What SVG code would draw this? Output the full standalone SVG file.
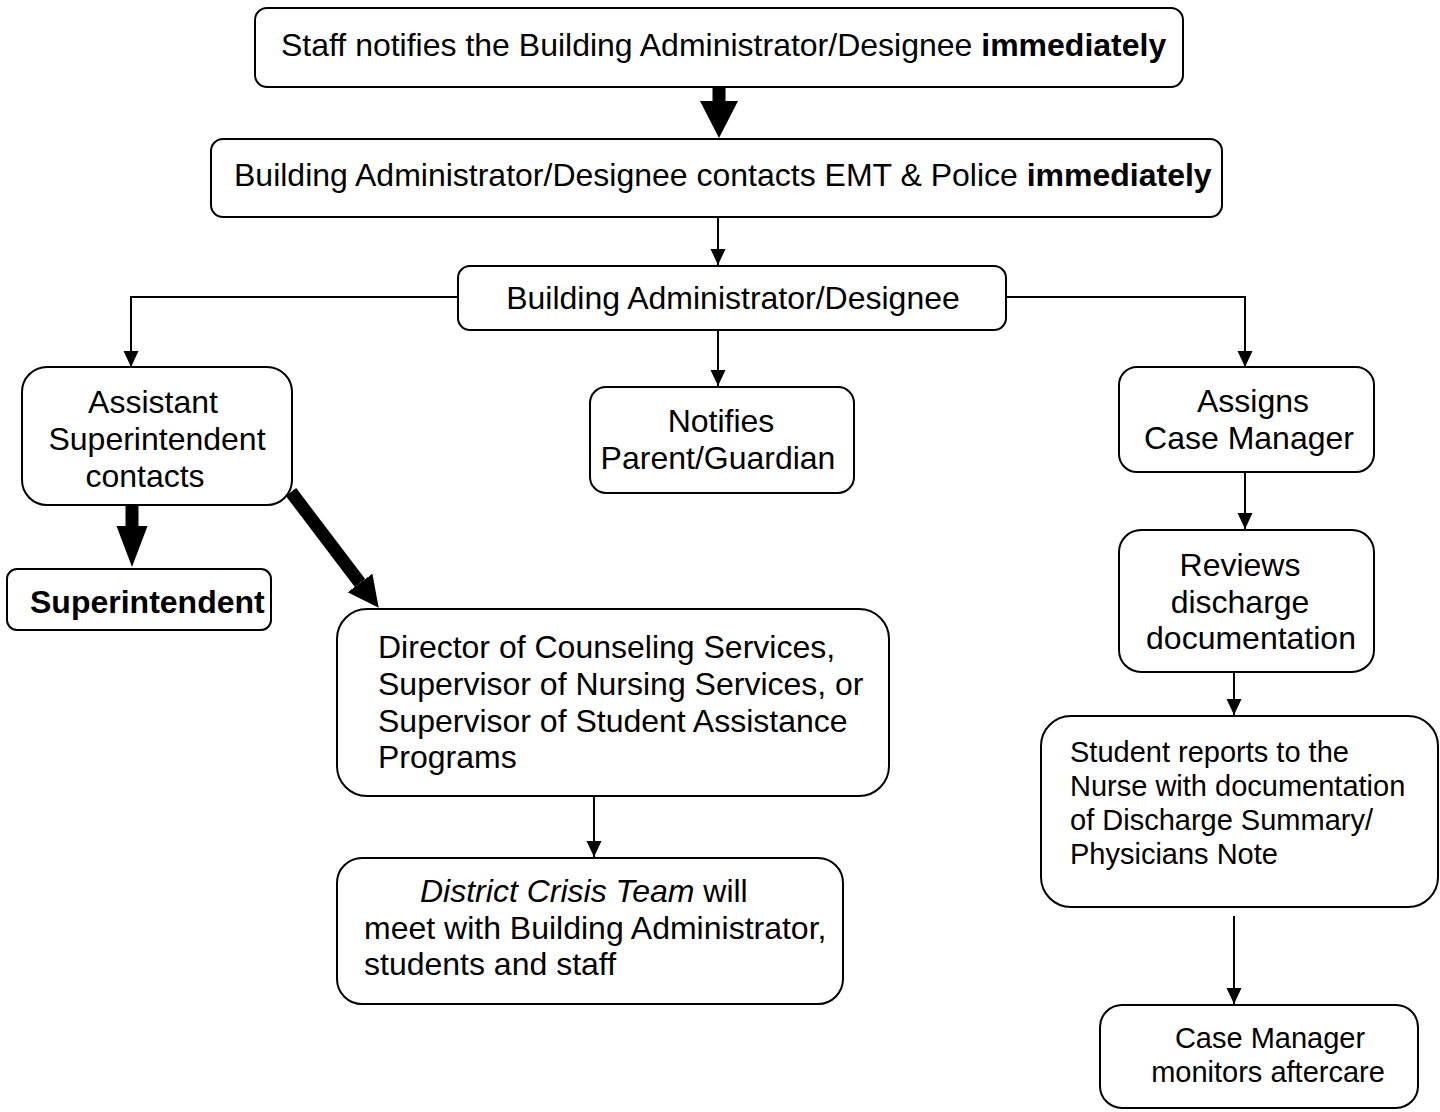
<svg xmlns="http://www.w3.org/2000/svg" width="1440" height="1112" viewBox="0 0 1440 1112">
  <style>
    .box { fill: #ffffff; stroke: #000000; stroke-width: 2; }
    .t { font-family: "Liberation Sans", Arial, sans-serif; font-size: 32px; fill: #000000; }
    .s { font-size: 29px; }
    .b { font-weight: bold; }
    .c { text-anchor: middle; }
    .line { fill: none; stroke: #000000; stroke-width: 2; }
    .thick { fill: none; stroke: #000000; stroke-width: 13; }
  </style>
  <defs>
    <marker id="head" markerUnits="userSpaceOnUse" markerWidth="16" markerHeight="16" refX="16" refY="7.5" orient="auto">
      <path d="M0,0 L16,7.5 L0,15 z" fill="#000000"/>
    </marker>
    <marker id="bighead-a" markerUnits="userSpaceOnUse" markerWidth="40" markerHeight="40" refX="0" refY="19" orient="auto">
      <path d="M0,0 L37,19 L0,38 z" fill="#000000"/>
    </marker>
    <marker id="bighead-b" markerUnits="userSpaceOnUse" markerWidth="44" markerHeight="34" refX="0" refY="15.5" orient="auto">
      <path d="M0,0 L41,15.5 L0,31 z" fill="#000000"/>
    </marker>
    <marker id="bighead-c" markerUnits="userSpaceOnUse" markerWidth="34" markerHeight="34" refX="0" refY="15.5" orient="auto">
      <path d="M0,0 L31,15.5 L0,31 z" fill="#000000"/>
    </marker>
  </defs>
  <rect width="1440" height="1112" fill="#ffffff"/>

  <g id="connectors">
    <line class="thick" x1="719" y1="87" x2="719" y2="101" marker-end="url(#bighead-a)"/>
    <line class="line" x1="718" y1="217" x2="718" y2="265" marker-end="url(#head)"/>
    <polyline class="line" points="458,297 131,297 131,367" marker-end="url(#head)"/>
    <polyline class="line" points="1006,297 1245,297 1245,367" marker-end="url(#head)"/>
    <line class="line" x1="718" y1="330" x2="718" y2="386" marker-end="url(#head)"/>
    <line class="thick" x1="132" y1="505" x2="132" y2="526" marker-end="url(#bighead-b)"/>
    <line class="thick" x1="291" y1="492" x2="360" y2="583" marker-end="url(#bighead-c)"/>
    <line class="line" x1="1245" y1="472" x2="1245" y2="529" marker-end="url(#head)"/>
    <line class="line" x1="1234" y1="672" x2="1234" y2="715" marker-end="url(#head)"/>
    <line class="line" x1="1234" y1="916" x2="1234" y2="1004" marker-end="url(#head)"/>
    <line class="line" x1="594" y1="796" x2="594" y2="857" marker-end="url(#head)"/>
  </g>

  <g id="staff-notifies">
    <rect class="box" x="255" y="8" width="928" height="79" rx="12"/>
    <text class="t" x="281" y="56">Staff notifies the Building Administrator/Designee <tspan class="b">immediately</tspan></text>
  </g>

  <g id="contacts-emt">
    <rect class="box" x="211" y="139" width="1011" height="78" rx="12"/>
    <text class="t" x="234" y="186">Building Administrator/Designee contacts EMT &amp; Police <tspan class="b">immediately</tspan></text>
  </g>

  <g id="administrator">
    <rect class="box" x="458" y="266" width="548" height="64" rx="12"/>
    <text class="t c" x="733" y="309">Building Administrator/Designee</text>
  </g>

  <g id="assistant-superintendent">
    <rect class="box" x="22" y="367" width="270" height="138" rx="25"/>
    <text class="t c" x="153" y="413">Assistant</text>
    <text class="t c" x="157" y="450">Superintendent</text>
    <text class="t c" x="145" y="487">contacts</text>
  </g>

  <g id="superintendent">
    <rect class="box" x="7" y="569" width="264" height="61" rx="10"/>
    <text class="t b" x="30" y="613">Superintendent</text>
  </g>

  <g id="notifies-parent">
    <rect class="box" x="590" y="387" width="264" height="106" rx="16"/>
    <text class="t c" x="721" y="432">Notifies</text>
    <text class="t c" x="718" y="469">Parent/Guardian</text>
  </g>

  <g id="assigns-case-manager">
    <rect class="box" x="1119" y="367" width="255" height="105" rx="18"/>
    <text class="t c" x="1253" y="412">Assigns</text>
    <text class="t c" x="1249" y="449">Case Manager</text>
  </g>

  <g id="reviews-discharge">
    <rect class="box" x="1119" y="530" width="255" height="142" rx="22"/>
    <text class="t c" x="1240" y="576">Reviews</text>
    <text class="t c" x="1240" y="613">discharge</text>
    <text class="t c" x="1251" y="649">documentation</text>
  </g>

  <g id="student-reports">
    <rect class="box" x="1041" y="716" width="397" height="191" rx="30"/>
    <text class="t s" x="1070" y="762">Student reports to the</text>
    <text class="t s" x="1070" y="796">Nurse with documentation</text>
    <text class="t s" x="1070" y="830">of Discharge Summary/</text>
    <text class="t s" x="1070" y="864">Physicians Note</text>
  </g>

  <g id="monitors-aftercare">
    <rect class="box" x="1100" y="1005" width="318" height="103" rx="22"/>
    <text class="t s c" x="1270" y="1048">Case Manager</text>
    <text class="t s c" x="1268" y="1082">monitors aftercare</text>
  </g>

  <g id="directors">
    <rect class="box" x="337" y="609" width="552" height="187" rx="30"/>
    <text class="t" x="378" y="658">Director of Counseling Services,</text>
    <text class="t" x="378" y="695">Supervisor of Nursing Services, or</text>
    <text class="t" x="378" y="732">Supervisor of Student Assistance</text>
    <text class="t" x="378" y="768">Programs</text>
  </g>

  <g id="crisis-team">
    <rect class="box" x="337" y="858" width="506" height="146" rx="25"/>
    <text class="t" x="420" y="902"><tspan font-style="italic">District Crisis Team</tspan> will</text>
    <text class="t" x="364" y="939">meet with Building Administrator,</text>
    <text class="t" x="364" y="975">students and staff</text>
  </g>
</svg>
